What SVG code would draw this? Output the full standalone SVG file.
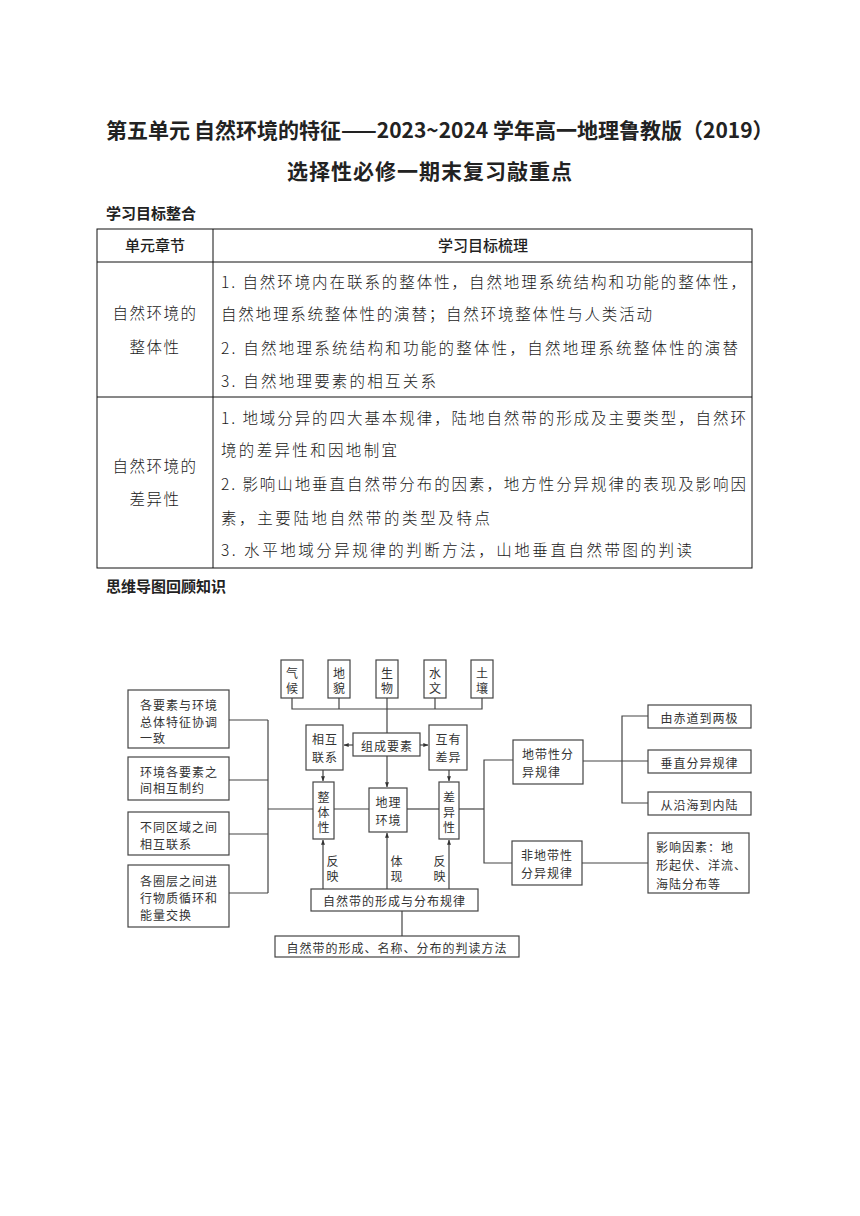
<svg xmlns="http://www.w3.org/2000/svg" width="860" height="1216" viewBox="0 0 860 1216">
<defs>
<marker id="ah" viewBox="0 0 8 8" refX="7.5" refY="4" markerWidth="5" markerHeight="5" orient="auto-start-reverse" markerUnits="userSpaceOnUse">
<path d="M0,0.8 L8,4 L0,7.2 Z" fill="#333"/>
</marker>
</defs>
<style>
text{font-family:"Noto Sans CJK SC","Liberation Sans",sans-serif;fill:#222}
.ttl{font-size:21px;font-weight:bold}
.sec{font-size:15px;font-weight:bold}
.th{font-size:15px;font-weight:500}
.tb{font-size:15.5px;font-weight:300;fill:#1a1a1a}
.tl{fill:none;stroke:#111;stroke-width:1}
.bx{fill:#fff;stroke:#444;stroke-width:1.2}
.ln{fill:none;stroke:#444;stroke-width:1.2}
.m{font-size:12px;fill:#333;letter-spacing:1px}
</style>
<rect width="860" height="1216" fill="#fff"/>

<g id="title">
<text class="ttl" x="106" y="138">第五单元<tspan x="194">自然环境的特征——2023~2024 学年高一地理鲁教版（2019）</tspan></text>
<text class="ttl" x="430" y="179" text-anchor="middle" letter-spacing="1">选择性必修一期末复习敲重点</text>
<text class="sec" x="106" y="219">学习目标整合</text>
<text class="sec" x="106" y="592">思维导图回顾知识</text>
</g>

<g id="table">
<rect class="tl" x="97" y="229" width="655" height="339"/>
<line class="tl" x1="97" y1="262" x2="752" y2="262"/>
<line class="tl" x1="97" y1="397" x2="752" y2="397"/>
<line class="tl" x1="213" y1="229" x2="213" y2="568"/>
<text class="th" x="155" y="251" text-anchor="middle">单元章节</text>
<text class="th" x="483" y="251" text-anchor="middle">学习目标梳理</text>
<text class="tb" x="155" y="319" text-anchor="middle" letter-spacing="1.5">自然环境的</text>
<text class="tb" x="155" y="353" text-anchor="middle" letter-spacing="1.5">整体性</text>
<text class="tb" x="221" y="288" textLength="525" lengthAdjust="spacing">1. 自然环境内在联系的整体性，自然地理系统结构和功能的整体性，</text>
<text class="tb" x="221" y="320" textLength="431" lengthAdjust="spacing">自然地理系统整体性的演替；自然环境整体性与人类活动</text>
<text class="tb" x="221" y="354" textLength="517" lengthAdjust="spacing">2. 自然地理系统结构和功能的整体性，自然地理系统整体性的演替</text>
<text class="tb" x="221" y="387" textLength="215" lengthAdjust="spacing">3. 自然地理要素的相互关系</text>
<text class="tb" x="155" y="472" text-anchor="middle" letter-spacing="1.5">自然环境的</text>
<text class="tb" x="155" y="505" text-anchor="middle" letter-spacing="1.5">差异性</text>
<text class="tb" x="221" y="424" textLength="525" lengthAdjust="spacing">1. 地域分异的四大基本规律，陆地自然带的形成及主要类型，自然环</text>
<text class="tb" x="221" y="456" textLength="176" lengthAdjust="spacing">境的差异性和因地制宜</text>
<text class="tb" x="221" y="490" textLength="525" lengthAdjust="spacing">2. 影响山地垂直自然带分布的因素，地方性分异规律的表现及影响因</text>
<text class="tb" x="221" y="524" textLength="269" lengthAdjust="spacing">素，主要陆地自然带的类型及特点</text>
<text class="tb" x="221" y="556" textLength="471" lengthAdjust="spacing">3. 水平地域分异规律的判断方法，山地垂直自然带图的判读</text>
</g>

<g id="connectors">
<polyline class="ln" points="292,698 292,709 482,709 482,698"/>
<line class="ln" x1="339" y1="698" x2="339" y2="709"/>
<line class="ln" x1="387" y1="698" x2="387" y2="733"/>
<line class="ln" x1="435" y1="698" x2="435" y2="709"/>
<line class="ln" x1="353" y1="745" x2="344" y2="745" marker-end="url(#ah)"/>
<line class="ln" x1="420" y1="745" x2="428" y2="745" marker-end="url(#ah)"/>
<line class="ln" x1="387" y1="756" x2="387" y2="787" marker-end="url(#ah)"/>
<line class="ln" x1="323" y1="770" x2="323" y2="781" marker-end="url(#ah)"/>
<line class="ln" x1="449" y1="770" x2="449" y2="781" marker-end="url(#ah)"/>
<line class="ln" x1="268" y1="809" x2="313" y2="809"/>
<line class="ln" x1="334" y1="809" x2="369" y2="809"/>
<line class="ln" x1="407" y1="809" x2="439" y2="809"/>
<line class="ln" x1="459" y1="809" x2="484" y2="809"/>
<line class="ln" x1="268" y1="720" x2="268" y2="893"/>
<line class="ln" x1="229" y1="720" x2="268" y2="720"/>
<line class="ln" x1="229" y1="780" x2="268" y2="780"/>
<line class="ln" x1="229" y1="834" x2="268" y2="834"/>
<line class="ln" x1="229" y1="893" x2="268" y2="893"/>
<polyline class="ln" points="513,760 484,760 484,863 512,863"/>
<line class="ln" x1="583" y1="761" x2="648" y2="761"/>
<polyline class="ln" points="648,716 622,716 622,803 648,803"/>
<line class="ln" x1="582" y1="863" x2="648" y2="863"/>
<line class="ln" x1="323" y1="889" x2="323" y2="840" marker-end="url(#ah)"/>
<line class="ln" x1="387" y1="889" x2="387" y2="833" marker-end="url(#ah)"/>
<line class="ln" x1="449" y1="889" x2="449" y2="840" marker-end="url(#ah)"/>
<line class="ln" x1="402" y1="911" x2="402" y2="936"/>
<text class="m" x="333" y="860" text-anchor="middle" dominant-baseline="central">反</text>
<text class="m" x="333" y="875" text-anchor="middle" dominant-baseline="central">映</text>
<text class="m" x="397" y="860" text-anchor="middle" dominant-baseline="central">体</text>
<text class="m" x="397" y="875" text-anchor="middle" dominant-baseline="central">现</text>
<text class="m" x="440" y="860" text-anchor="middle" dominant-baseline="central">反</text>
<text class="m" x="440" y="875" text-anchor="middle" dominant-baseline="central">映</text>
</g>

<g id="n-qihou"><rect class="bx" x="281" y="660" width="22" height="38"/><text class="m" x="292.5" y="672" text-anchor="middle" dominant-baseline="central">气</text><text class="m" x="292.5" y="687" text-anchor="middle" dominant-baseline="central">候</text></g>
<g id="n-dimao"><rect class="bx" x="328" y="660" width="22" height="38"/><text class="m" x="339.5" y="672" text-anchor="middle" dominant-baseline="central">地</text><text class="m" x="339.5" y="687" text-anchor="middle" dominant-baseline="central">貌</text></g>
<g id="n-shengwu"><rect class="bx" x="376" y="660" width="22" height="38"/><text class="m" x="387.5" y="672" text-anchor="middle" dominant-baseline="central">生</text><text class="m" x="387.5" y="687" text-anchor="middle" dominant-baseline="central">物</text></g>
<g id="n-shuiwen"><rect class="bx" x="424" y="660" width="22" height="38"/><text class="m" x="435.5" y="672" text-anchor="middle" dominant-baseline="central">水</text><text class="m" x="435.5" y="687" text-anchor="middle" dominant-baseline="central">文</text></g>
<g id="n-turang"><rect class="bx" x="471" y="660" width="22" height="38"/><text class="m" x="482.5" y="672" text-anchor="middle" dominant-baseline="central">土</text><text class="m" x="482.5" y="687" text-anchor="middle" dominant-baseline="central">壤</text></g>

<g id="n-zucheng"><rect class="bx" x="353" y="733" width="67" height="23"/><text class="m" x="387" y="745" text-anchor="middle" dominant-baseline="central">组成要素</text></g>
<g id="n-xianghu"><rect class="bx" x="306" y="725" width="37" height="45"/><text class="m" x="325" y="738" text-anchor="middle" dominant-baseline="central">相互</text><text class="m" x="325" y="756" text-anchor="middle" dominant-baseline="central">联系</text></g>
<g id="n-huyou"><rect class="bx" x="429" y="725" width="38" height="45"/><text class="m" x="448.5" y="738" text-anchor="middle" dominant-baseline="central">互有</text><text class="m" x="448.5" y="756" text-anchor="middle" dominant-baseline="central">差异</text></g>
<g id="n-zhengti"><rect class="bx" x="313" y="782" width="21" height="57"/><text class="m" x="324" y="796" text-anchor="middle" dominant-baseline="central">整</text><text class="m" x="324" y="811" text-anchor="middle" dominant-baseline="central">体</text><text class="m" x="324" y="826" text-anchor="middle" dominant-baseline="central">性</text></g>
<g id="n-dili"><rect class="bx" x="369" y="788" width="38" height="44"/><text class="m" x="388.5" y="801" text-anchor="middle" dominant-baseline="central">地理</text><text class="m" x="388.5" y="819" text-anchor="middle" dominant-baseline="central">环境</text></g>
<g id="n-chayi"><rect class="bx" x="439" y="782" width="20" height="57"/><text class="m" x="449.5" y="796" text-anchor="middle" dominant-baseline="central">差</text><text class="m" x="449.5" y="811" text-anchor="middle" dominant-baseline="central">异</text><text class="m" x="449.5" y="826" text-anchor="middle" dominant-baseline="central">性</text></g>

<g id="n-l1"><rect class="bx" x="128" y="690" width="101" height="58"/><text class="m" x="140" y="704" dominant-baseline="central">各要素与环境</text><text class="m" x="140" y="721" dominant-baseline="central">总体特征协调</text><text class="m" x="140" y="737" dominant-baseline="central">一致</text></g>
<g id="n-l2"><rect class="bx" x="128" y="757" width="101" height="43"/><text class="m" x="140" y="771" dominant-baseline="central">环境各要素之</text><text class="m" x="140" y="787" dominant-baseline="central">间相互制约</text></g>
<g id="n-l3"><rect class="bx" x="128" y="812" width="101" height="43"/><text class="m" x="140" y="826" dominant-baseline="central">不同区域之间</text><text class="m" x="140" y="843" dominant-baseline="central">相互联系</text></g>
<g id="n-l4"><rect class="bx" x="128" y="865" width="101" height="62"/><text class="m" x="140" y="880" dominant-baseline="central">各圈层之间进</text><text class="m" x="140" y="897" dominant-baseline="central">行物质循环和</text><text class="m" x="140" y="914" dominant-baseline="central">能量交换</text></g>

<g id="n-didai"><rect class="bx" x="513" y="740" width="70" height="44"/><text class="m" x="522" y="753" dominant-baseline="central">地带性分</text><text class="m" x="522" y="771" dominant-baseline="central">异规律</text></g>
<g id="n-feididai"><rect class="bx" x="512" y="841" width="70" height="44"/><text class="m" x="547" y="854" text-anchor="middle" dominant-baseline="central">非地带性</text><text class="m" x="547" y="872" text-anchor="middle" dominant-baseline="central">分异规律</text></g>
<g id="n-r1"><rect class="bx" x="648" y="705" width="103" height="23"/><text class="m" x="699.5" y="717" text-anchor="middle" dominant-baseline="central">由赤道到两极</text></g>
<g id="n-r2"><rect class="bx" x="648" y="750" width="103" height="23"/><text class="m" x="699.5" y="762" text-anchor="middle" dominant-baseline="central">垂直分异规律</text></g>
<g id="n-r3"><rect class="bx" x="648" y="792" width="103" height="23"/><text class="m" x="699.5" y="804" text-anchor="middle" dominant-baseline="central">从沿海到内陆</text></g>
<g id="n-r4"><rect class="bx" x="648" y="833" width="101" height="60"/><text class="m" x="656" y="846" dominant-baseline="central">影响因素：地</text><text class="m" x="656" y="864" dominant-baseline="central">形起伏、洋流、</text><text class="m" x="656" y="883" dominant-baseline="central">海陆分布等</text></g>

<g id="n-ziran"><rect class="bx" x="311" y="889" width="167" height="22"/><text class="m" x="394.5" y="900" text-anchor="middle" dominant-baseline="central">自然带的形成与分布规律</text></g>
<g id="n-pandu"><rect class="bx" x="275" y="936" width="244" height="21"/><text class="m" x="397" y="947" text-anchor="middle" dominant-baseline="central">自然带的形成、名称、分布的判读方法</text></g>
</svg>
